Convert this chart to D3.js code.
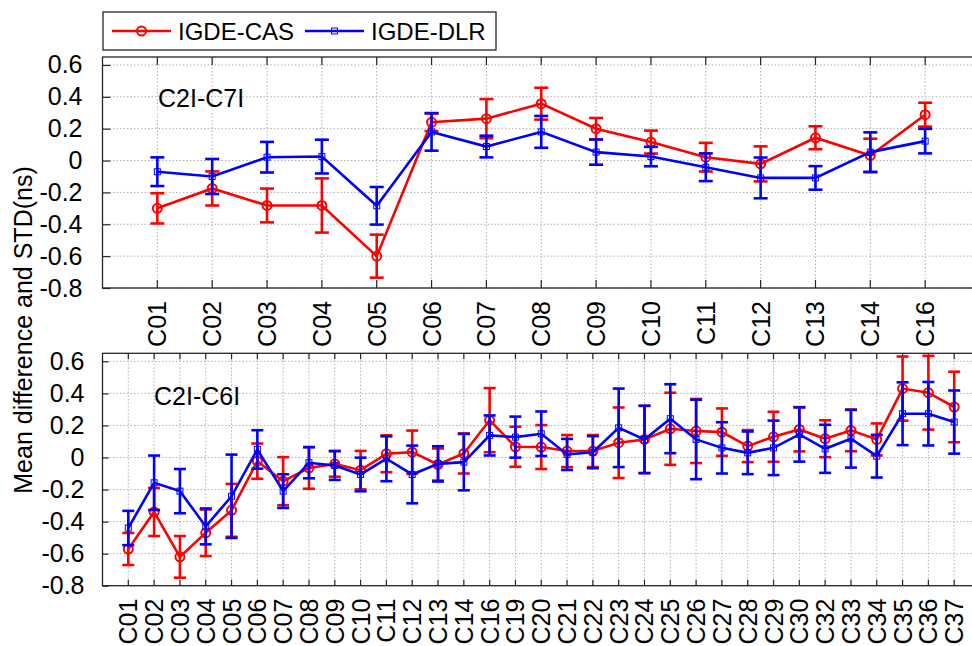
<!DOCTYPE html>
<html>
<head>
<meta charset="utf-8">
<script src="https://cdn.jsdelivr.net/npm/d3@7"></script>
<style>
  body { margin: 0; background: #fff; }
  text { font-family: "Liberation Sans", Arial, sans-serif; fill: #000; }
</style>
</head>
<body>
<svg id="chart" width="972" height="646"></svg>
<script>
// ---- data (ns) ----
const sats1 = ["C01","C02","C03","C04","C05","C06","C07","C08","C09","C10","C11","C12","C13","C14","C16"];
const cas1Mean = [-0.30,-0.175,-0.282,-0.282,-0.60,0.24,0.263,0.357,0.20,0.116,0.021,-0.021,0.143,0.032,0.288];
const cas1Std  = [0.095,0.107,0.106,0.17,0.135,0.055,0.123,0.10,0.067,0.072,0.09,0.11,0.072,0.105,0.075];
const dlr1Mean = [-0.07,-0.10,0.021,0.025,-0.284,0.18,0.088,0.18,0.053,0.025,-0.042,-0.109,-0.109,0.053,0.122];
const dlr1Std  = [0.09,0.11,0.096,0.106,0.118,0.118,0.068,0.10,0.079,0.061,0.087,0.128,0.074,0.124,0.077];

const sats2 = ["C01","C02","C03","C04","C05","C06","C07","C08","C09","C10","C11","C12","C13","C14","C16","C19","C20",
  "C21","C22","C23","C24","C25","C26","C27","C28","C29","C30","C32","C33","C34","C35","C36","C37"];
const cas2Mean = [-0.571,-0.34,-0.62,-0.47,-0.33,-0.023,-0.148,-0.065,-0.04,-0.079,0.023,0.033,-0.044,0.025,0.233,0.067,0.065,
  0.04,0.04,0.092,0.1125,0.179,0.165,0.158,0.071,0.129,0.175,0.117,0.169,0.1125,0.43,0.404,0.315];
const cas2Std  = [0.10,0.15,0.13,0.145,0.165,0.11,0.15,0.13,0.08,0.12,0.115,0.135,0.10,0.125,0.20,0.125,0.137,
  0.10,0.10,0.22,0.21,0.225,0.20,0.148,0.10,0.156,0.137,0.115,0.13,0.10,0.20,0.23,0.22];
const dlr2Mean = [-0.44,-0.158,-0.21,-0.43,-0.242,0.05,-0.21,-0.033,-0.05,-0.106,-0.008,-0.106,-0.04,-0.029,0.1375,0.127,0.148,
  0.019,0.033,0.185,0.1125,0.242,0.1125,0.06,0.029,0.06,0.144,0.054,0.117,0.008,0.273,0.273,0.221];
const dlr2Std  = [0.107,0.17,0.138,0.112,0.26,0.12,0.105,0.097,0.09,0.105,0.14,0.18,0.11,0.176,0.125,0.128,0.139,
  0.097,0.10,0.245,0.21,0.215,0.248,0.16,0.133,0.17,0.17,0.15,0.18,0.133,0.196,0.198,0.197];

const yTicks = [-0.8,-0.6,-0.4,-0.2,0,0.2,0.4,0.6];
const yTickLabels = ["-0.8","-0.6","-0.4","-0.2","0","0.2","0.4","0.6"];
const seriesNames = ["IGDE-CAS","IGDE-DLR"];

// ---- layout ----
const svg = d3.select("#chart");
const left = 102.5, right = 980;
const axisColor = "#262626";
const red = "#ff0000", blue = "#0000ff";

function panel(o) {
  const x = d3.scaleLinear().domain([0, o.cats.length + 1]).range([left, right]);
  const y = d3.scaleLinear().domain([-0.8, 0.65]).range([o.bottom, o.top]);
  const g = svg.append("g");

  // grid
  g.append("g").selectAll("line").data(yTicks).join("line")
      .attr("x1", left).attr("x2", right)
      .attr("y1", d => y(d)).attr("y2", d => y(d))
      .attr("stroke", "#b0b0b0").attr("stroke-dasharray", "1.5,2");
  g.append("g").selectAll("line").data(o.cats).join("line")
      .attr("x1", (d, i) => x(i + 1)).attr("x2", (d, i) => x(i + 1))
      .attr("y1", o.top).attr("y2", o.bottom)
      .attr("stroke", "#b0b0b0").attr("stroke-dasharray", "1.5,2");

  // frame
  g.append("rect")
      .attr("x", left).attr("y", o.top)
      .attr("width", right - left).attr("height", o.bottom - o.top)
      .attr("fill", "none").attr("stroke", axisColor).attr("stroke-width", 1.3);

  // y axis (inward ticks)
  g.append("g")
      .attr("transform", `translate(${left},0)`)
      .call(d3.axisLeft(y).tickValues(yTicks).tickSize(-o.tick).tickPadding(12 + o.tick)
        .tickFormat((d, i) => yTickLabels[i]))
      .call(a => a.select(".domain").remove())
      .call(a => a.selectAll("line").attr("stroke", axisColor).attr("stroke-width", 1.2))
      .call(a => a.selectAll("text").attr("font-size", 25).attr("font-family", "Liberation Sans, Arial, sans-serif").attr("fill", "#000"));

  // x ticks bottom and top
  const idx = o.cats.map((d, i) => i + 1);
  g.append("g").selectAll("line").data(idx).join("line")
      .attr("x1", d => x(d)).attr("x2", d => x(d))
      .attr("y1", o.bottom).attr("y2", o.bottom - o.tick)
      .attr("stroke", axisColor).attr("stroke-width", 1.2);
  g.append("g").selectAll("line").data(idx).join("line")
      .attr("x1", d => x(d)).attr("x2", d => x(d))
      .attr("y1", o.top).attr("y2", o.top + o.tick)
      .attr("stroke", axisColor).attr("stroke-width", 1.2);

  // x labels, rotated
  g.append("g").selectAll("text").data(o.cats).join("text")
      .attr("transform", (d, i) => `translate(${x(i + 1)},${o.bottom + 13}) rotate(-90)`)
      .attr("text-anchor", "end").attr("dy", "0.36em")
      .attr("font-size", 25)
      .text(d => d);

  // panel label
  g.append("text")
      .attr("x", o.labelX).attr("y", o.labelY)
      .attr("font-size", 25)
      .text(o.label);

  // series
  o.series.forEach(s => {
    const sg = g.append("g");
    const pts = s.mean.map((m, i) => ({i: i + 1, m, sd: s.std[i]}));
    sg.append("path").datum(pts)
        .attr("fill", "none").attr("stroke", s.color).attr("stroke-width", 2.6)
        .attr("d", d3.line().x(d => x(d.i)).y(d => y(d.m)));
    sg.append("g").selectAll("line").data(pts).join("line")
        .attr("x1", d => x(d.i)).attr("x2", d => x(d.i))
        .attr("y1", d => y(d.m - d.sd)).attr("y2", d => y(d.m + d.sd))
        .attr("stroke", s.color).attr("stroke-width", 2.6);
    ["lo", "hi"].forEach(k => {
      sg.append("g").selectAll("line").data(pts).join("line")
          .attr("x1", d => x(d.i) - o.cap / 2).attr("x2", d => x(d.i) + o.cap / 2)
          .attr("y1", d => y(k === "lo" ? d.m - d.sd : d.m + d.sd))
          .attr("y2", d => y(k === "lo" ? d.m - d.sd : d.m + d.sd))
          .attr("stroke", s.color).attr("stroke-width", 2.6);
    });
    if (s.marker === "circle") {
      sg.append("g").selectAll("circle").data(pts).join("circle")
          .attr("cx", d => x(d.i)).attr("cy", d => y(d.m)).attr("r", 4.5)
          .attr("fill", "none").attr("stroke", s.color).attr("stroke-width", 2);
    } else {
      sg.append("g").selectAll("rect").data(pts).join("rect")
          .attr("x", d => x(d.i) - 3).attr("y", d => y(d.m) - 3)
          .attr("width", 6).attr("height", 6)
          .attr("fill", "none").attr("stroke", s.color).attr("stroke-width", 1);
    }
  });
}

panel({
  cats: sats1, top: 57, bottom: 288, tick: 8, cap: 14,
  label: "C2I-C7I", labelX: 158, labelY: 107,
  series: [
    {mean: cas1Mean, std: cas1Std, color: red, marker: "circle"},
    {mean: dlr1Mean, std: dlr1Std, color: blue, marker: "square"}
  ]
});

panel({
  cats: sats2, top: 353.3, bottom: 585.7, tick: 6, cap: 12,
  label: "C2I-C6I", labelX: 154, labelY: 405,
  series: [
    {mean: cas2Mean, std: cas2Std, color: red, marker: "circle"},
    {mean: dlr2Mean, std: dlr2Std, color: blue, marker: "square"}
  ]
});

// y axis title
svg.append("text")
    .attr("transform", "translate(32,330) rotate(-90)")
    .attr("text-anchor", "middle")
    .attr("font-size", 25)
    .text("Mean difference and STD(ns)");

// legend
const lg = svg.append("g");
lg.append("rect").attr("x", 103).attr("y", 12).attr("width", 393).attr("height", 38)
    .attr("fill", "#fff").attr("stroke", axisColor).attr("stroke-width", 1.3);
const legendItems = [
  {name: seriesNames[0], color: red, marker: "circle", x0: 112},
  {name: seriesNames[1], color: blue, marker: "square", x0: 305}
];
legendItems.forEach(it => {
  lg.append("line").attr("x1", it.x0).attr("x2", it.x0 + 59).attr("y1", 31).attr("y2", 31)
      .attr("stroke", it.color).attr("stroke-width", 2.6);
  if (it.marker === "circle") {
    lg.append("circle").attr("cx", it.x0 + 29.5).attr("cy", 31).attr("r", 4.5)
        .attr("fill", "none").attr("stroke", it.color).attr("stroke-width", 2);
  } else {
    lg.append("rect").attr("x", it.x0 + 26.5).attr("y", 28).attr("width", 6).attr("height", 6)
        .attr("fill", "none").attr("stroke", it.color).attr("stroke-width", 1);
  }
  lg.append("text").attr("x", it.x0 + 66).attr("y", 40).attr("font-size", 24).text(it.name);
});
</script>
</body>
</html>
